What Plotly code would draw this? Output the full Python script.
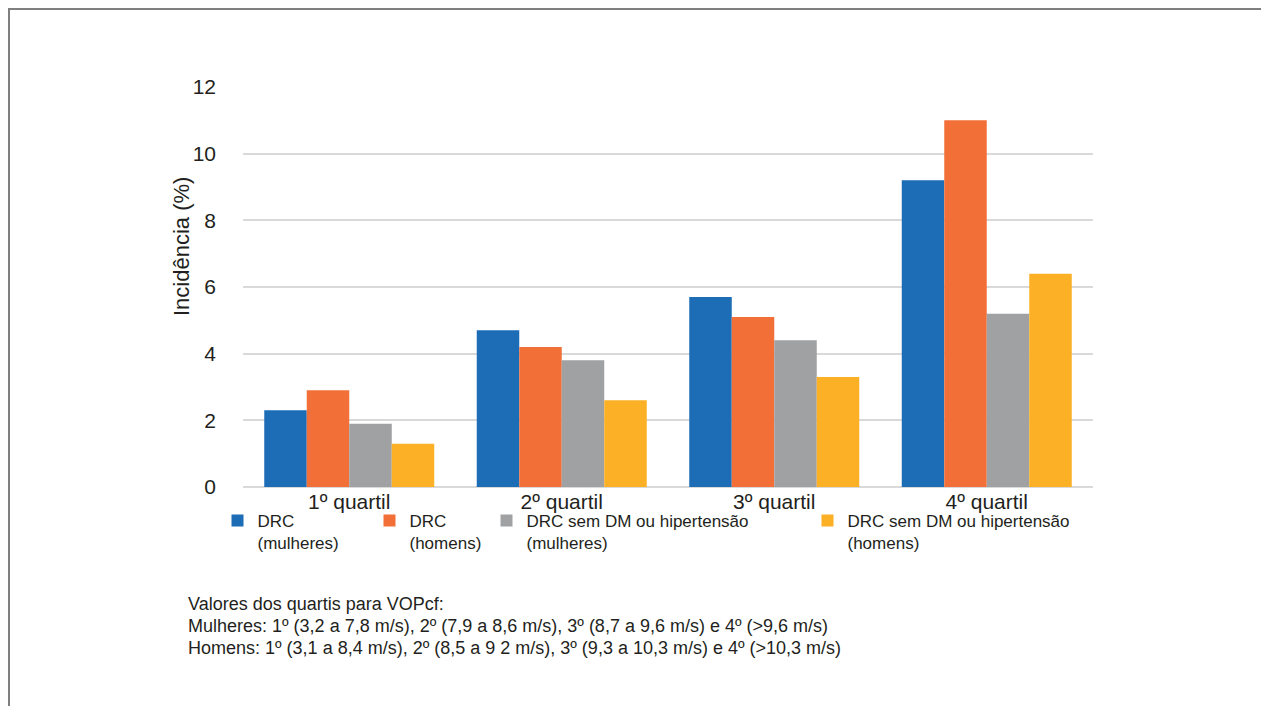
import plotly.graph_objects as go

categories = ["1º quartil", "2º quartil", "3º quartil", "4º quartil"]
series_names = [
    "DRC<br>(mulheres)",
    "DRC<br>(homens)",
    "DRC sem DM ou hipertensão<br>(mulheres)",
    "DRC sem DM ou hipertensão<br>(homens)",
]
drc_mulheres = [2.3, 4.7, 5.7, 9.2]
drc_homens = [2.9, 4.2, 5.1, 11.0]
drc_sem_mulheres = [1.9, 3.8, 4.4, 5.2]
drc_sem_homens = [1.3, 2.6, 3.3, 6.4]
y_ticks = [0, 2, 4, 6, 8, 10, 12]
footnote_lines = [
    "Valores dos quartis para VOPcf:",
    "Mulheres: 1º (3,2 a 7,8 m/s), 2º (7,9 a 8,6 m/s), 3º (8,7 a 9,6 m/s) e 4º (>9,6 m/s)",
    "Homens: 1º (3,1 a 8,4 m/s), 2º (8,5 a 9 2 m/s), 3º (9,3 a 10,3 m/s) e 4º (>10,3 m/s)",
]

colors = ["#1c6cb6", "#f26f38", "#9fa1a3", "#fbb025"]
values = [drc_mulheres, drc_homens, drc_sem_mulheres, drc_sem_homens]
legend_ids = ["legend", "legend2", "legend3", "legend4"]

FONT = "Liberation Sans, Arial, sans-serif"
TXT = "#231f20"

# page body has an 8px margin: screen = figure + 8
OFF = 8
W, H = 1269 - OFF, 706 - OFF
plot_left, plot_right, plot_top, plot_bottom = 243, 1093, 87, 487  # screen px
L = plot_left - OFF
R = W - (plot_right - OFF)
T = plot_top - OFF
B = H - (plot_bottom - OFF)
pw, ph = plot_right - plot_left, plot_bottom - plot_top


def px(sx):
    return (sx - plot_left) / pw


def py(sy):
    return (plot_bottom - sy) / ph


legend_text_x = [258, 410, 527, 848]
LEG_TEXT_OFFSET = 40.5

fig = go.Figure()
for name, vals, col, lg in zip(series_names, values, colors, legend_ids):
    fig.add_trace(go.Bar(x=categories, y=vals, name=name, marker_color=col,
                         marker_line_width=0, legend=lg))

layout_legends = {}
for lg, tx in zip(legend_ids, legend_text_x):
    layout_legends[lg] = dict(
        x=px(tx - LEG_TEXT_OFFSET), y=py(503), xanchor="left", yanchor="top",
        orientation="h", valign="top", bgcolor="rgba(0,0,0,0)",
        font=dict(family=FONT, size=17, color=TXT),
        itemclick=False, traceorder="normal",
    )

fig.update_layout(
    width=W, height=H,
    margin=dict(l=L, r=R, t=T, b=B, pad=0),
    paper_bgcolor="white", plot_bgcolor="white",
    barmode="group", bargap=0.2, bargroupgap=0,
    showlegend=True,
    font=dict(family=FONT, color=TXT),
    **layout_legends,
)
fig.update_xaxes(
    showgrid=False, showline=False, ticks="",
    tickfont=dict(family=FONT, size=21, color=TXT),
)
fig.update_yaxes(
    range=[0, 12], tickvals=y_ticks, showgrid=True, gridcolor="#d9d9d9",
    gridwidth=2, zeroline=True, zerolinecolor="#d9d9d9", zerolinewidth=2,
    showline=False, ticks="", ticklabelstandoff=26,
    tickfont=dict(family=FONT, size=21, color=TXT),
)

fig.add_annotation(
    text="Incidência (%)", textangle=-90, showarrow=False,
    xref="paper", yref="paper", x=px(181), y=py(247),
    xanchor="center", yanchor="middle",
    font=dict(family=FONT, size=22, color=TXT),
)
for line, cy in zip(footnote_lines, [604, 626, 648]):
    fig.add_annotation(
        text=line, showarrow=False, align="left",
        xref="paper", yref="paper", x=px(186), y=py(cy),
        xanchor="left", yanchor="middle",
        font=dict(family=FONT, size=18, color=TXT),
    )
fig.add_shape(
    type="rect", xref="paper", yref="paper",
    x0=px(OFF + 1), x1=px(1263), y0=py(760), y1=py(OFF + 1),
    line=dict(color="#7f7f7f", width=2), fillcolor="rgba(0,0,0,0)", layer="below",
)

fig.write_html("out.html")
